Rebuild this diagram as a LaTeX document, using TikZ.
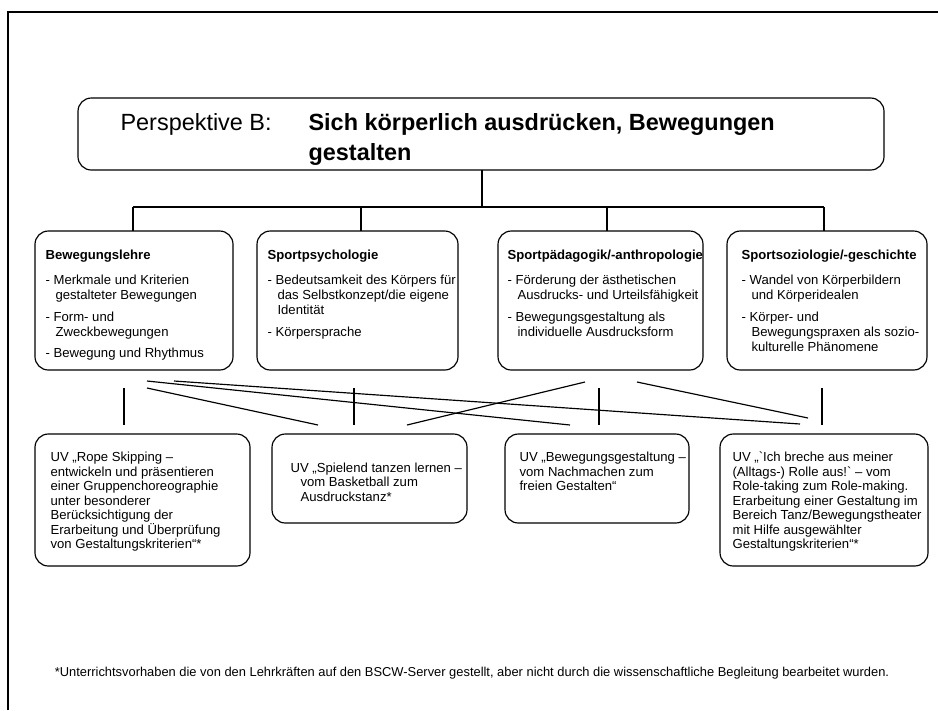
\documentclass[tikz,border=0pt]{standalone}
\usepackage{fontspec}
\setmainfont{Liberation Sans}
\newfontfamily\ohnelig{Liberation Sans}
\usetikzlibrary{positioning}
\newcommand{\einr}{\hspace*{8.5pt}}
\newcommand{\gravis}{{\ohnelig`}}

\begin{document}
\begin{tikzpicture}[x=0.3mm, y=-0.3mm, line width=1pt,
    box/.style={draw, rounded corners=4mm},
    fach/.style={anchor=north west, align=left, inner sep=0pt,
        font=\fontsize{11.2}{12.8}\selectfont},
    uv/.style={anchor=north west, align=left, inner sep=0pt,
        font=\fontsize{11.2}{12.4}\selectfont},
    link/.style={line width=1pt}]
        \useasboundingbox (0,0) rectangle (938,710);

        % Rahmen (nur oben und links)
        \draw (8,710) -- (8,12) -- (938,12);

        % Kopf
        \draw[box] (78,98) rectangle (884,170);
        \node[anchor=north west, inner sep=0pt, font=\fontsize{20}{25.6}\selectfont] (persp) at (120,113) {Perspektive B:};
        \node[anchor=north west, inner sep=0pt, align=left, font=\fontsize{20}{25.6}\selectfont\bfseries] (titel) at (308,113)
            {Sich körperlich ausdrücken, Bewegungen\\ gestalten};

        % Verzweigung
        \coordinate (k0) at (482,170);
        \coordinate (k1) at (482,207);
        \coordinate (h1) at (133,207);
        \coordinate (h2) at (361,207);
        \coordinate (h3) at (607,207);
        \coordinate (h4) at (824,207);
        \draw[link] (k0) -- (k1);
        \draw[link] (h1) -- (h4);
        \foreach \h in {h1,h2,h3,h4}
            \draw[link] (\h) -- ++(0,24);

        % Bezugswissenschaften
        \draw[box] (35,231) rectangle (233,370);
        \node[fach] (lehre) at (45,249.5)
            {\textbf{Bewegungslehre}\\[8.5pt]
             - Merkmale und Kriterien\\
             \einr gestalteter Bewegungen\\[5.7pt]
             - Form- und\\
             \einr Zweckbewegungen\\[5.7pt]
             - Bewegung und Rhythmus};

        \draw[box] (257,231) rectangle (458,370);
        \node[fach] (psych) at (267,249.5)
            {\textbf{Sportpsychologie}\\[8.5pt]
             - Bedeutsamkeit des Körpers für\\
             \einr das Selbstkonzept/die eigene\\
             \einr Identität\\[5.7pt]
             - Körpersprache};

        \draw[box] (498,231) rectangle (703,370);
        \node[fach] (paed) at (507,249.5)
            {\textbf{Sportpädagogik/-anthropologie}\\[8.5pt]
             - Förderung der ästhetischen\\
             \einr Ausdrucks- und Urteilsfähigkeit\\[5.7pt]
             - Bewegungsgestaltung als\\
             \einr individuelle Ausdrucksform};

        \draw[box] (727,231) rectangle (927,370);
        \node[fach] (sozio) at (741,249.5)
            {\textbf{Sportsoziologie/-geschichte}\\[8.5pt]
             - Wandel von Körperbildern\\
             \einr und Körperidealen\\[5.7pt]
             - Körper- und\\
             \einr Bewegungspraxen als sozio-\\
             \einr kulturelle Phänomene};

        % Zuordnungen
        \coordinate (a1) at (124,388);  \coordinate (b1) at (124,425);
        \coordinate (a2) at (354,388);  \coordinate (b2) at (354,425);
        \coordinate (a3) at (599,388);  \coordinate (b3) at (599,425);
        \coordinate (a4) at (822,388);  \coordinate (b4) at (822,425);
        \foreach \i in {1,...,4}
            \draw[link] (a\i) -- (b\i);
        \coordinate (l1) at (147,381);
        \coordinate (l2) at (147,388);
        \coordinate (l3) at (174,381);
        \coordinate (p1) at (585,382);
        \coordinate (p2) at (637,382);
        \coordinate (e1) at (318,425);
        \coordinate (e2) at (407,425);
        \coordinate (e3) at (570,425);
        \coordinate (e4) at (800,424);
        \coordinate (e5) at (808,418);
        \draw[link] (l2) -- (e1);
        \draw[link] (l1) -- (e3);
        \draw[link] (l3) -- (e4);
        \draw[link] (p1) -- (e2);
        \draw[link] (p2) -- (e5);

        % Unterrichtsvorhaben
        \draw[box] (35,434) rectangle (250,566);
        \node[uv] (uv1) at (50,451.5)
            {UV „Rope Skipping –\\
             entwickeln und präsentieren\\
             einer Gruppenchoreographie\\
             unter besonderer\\
             Berücksichtigung der\\
             Erarbeitung und Überprüfung\\
             von Gestaltungskriterien“*};

        \draw[box] (272,434) rectangle (467,523);
        \node[uv] (uv2) at (290,462)
            {UV „Spielend tanzen lernen –\\
             \einr vom Basketball zum\\
             \einr Ausdruckstanz*};

        \draw[box] (505,434) rectangle (689,523);
        \node[uv] (uv3) at (519,451.5)
            {UV „Bewegungsgestaltung –\\
             vom Nachmachen zum\\
             freien Gestalten“};

        \draw[box] (720,434) rectangle (928,566);
        \node[uv] (uv4) at (732,451.5)
            {UV „\gravis Ich breche aus meiner\\
             (Alltags-) Rolle aus!\gravis{} – vom\\
             Role-taking zum Role-making.\\
             Erarbeitung einer Gestaltung im\\
             Bereich Tanz/Bewegungstheater\\
             mit Hilfe ausgewählter\\
             Gestaltungskriterien“*};

        % Fussnote
        \node[anchor=base, font=\fontsize{11}{13}\selectfont, inner sep=0pt] (fuss) at (472,676)
            {*Unterrichtsvorhaben die von den Lehrkräften auf den BSCW-Server gestellt, aber nicht durch die wissenschaftliche Begleitung bearbeitet wurden.};

    \end{tikzpicture}
\end{document}
